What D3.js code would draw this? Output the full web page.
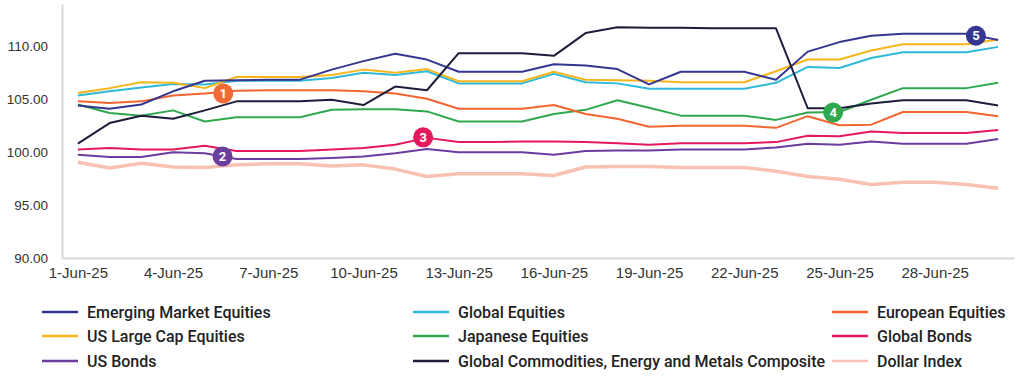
<!DOCTYPE html>
<html>
<head>
<meta charset="utf-8">
<script src="https://cdn.jsdelivr.net/npm/d3@7"></script>
<style>
  html, body { margin: 0; padding: 0; background: #fff; }
  svg { display: block; font-family: Roboto, "Noto Sans", sans-serif; }
</style>
</head>
<body>
<svg id="chart" width="1024" height="382"></svg>
<script>
// ---------- data ----------
const dates = ["1-Jun-25","2-Jun-25","3-Jun-25","4-Jun-25","5-Jun-25","6-Jun-25","7-Jun-25","8-Jun-25","9-Jun-25","10-Jun-25",
  "11-Jun-25","12-Jun-25","13-Jun-25","14-Jun-25","15-Jun-25","16-Jun-25","17-Jun-25","18-Jun-25","19-Jun-25","20-Jun-25",
  "21-Jun-25","22-Jun-25","23-Jun-25","24-Jun-25","25-Jun-25","26-Jun-25","27-Jun-25","28-Jun-25","29-Jun-25","30-Jun-25"];

const yTicks = [90, 95, 100, 105, 110];
const xTickDates = ["1-Jun-25","4-Jun-25","7-Jun-25","10-Jun-25","13-Jun-25","16-Jun-25","19-Jun-25","22-Jun-25","25-Jun-25","28-Jun-25"];

const emergingMarket = [104.4,104.1,104.5,105.75,106.75,106.8,106.85,106.85,107.8,108.6,109.3,108.75,107.6,107.6,107.6,108.3,108.2,107.85,106.4,107.6,107.6,107.6,106.85,109.5,110.4,111.0,111.2,111.2,111.2,110.6];
const globalEquities = [105.35,105.75,106.1,106.45,106.4,106.75,106.75,106.75,107.0,107.5,107.3,107.65,106.5,106.5,106.5,107.4,106.6,106.5,106.0,106.0,106.0,106.0,106.55,108.05,107.95,108.9,109.45,109.45,109.45,109.95];
const europeanEquities = [104.8,104.65,104.8,105.35,105.55,105.8,105.85,105.85,105.85,105.75,105.55,105.05,104.1,104.1,104.1,104.45,103.6,103.15,102.4,102.5,102.5,102.5,102.3,103.4,102.55,102.6,103.8,103.8,103.8,103.4];
const usLargeCap = [105.6,106.05,106.6,106.55,106.05,107.1,107.1,107.1,107.3,107.8,107.5,107.85,106.7,106.7,106.7,107.6,106.85,106.8,106.75,106.6,106.6,106.6,107.65,108.75,108.75,109.6,110.2,110.2,110.2,110.65];
const japaneseEquities = [104.5,103.7,103.45,103.95,102.9,103.3,103.3,103.3,104.0,104.05,104.05,103.85,102.9,102.9,102.9,103.6,104.0,104.9,104.2,103.45,103.45,103.45,103.05,103.75,103.8,104.95,106.05,106.05,106.05,106.55];
const globalBonds = [100.25,100.4,100.25,100.25,100.6,100.1,100.1,100.1,100.25,100.4,100.7,101.35,100.95,100.95,101.0,101.0,100.95,100.85,100.7,100.85,100.85,100.85,100.95,101.55,101.5,101.95,101.8,101.8,101.8,102.1];
const usBonds = [99.75,99.55,99.55,100.0,99.9,99.35,99.35,99.35,99.45,99.6,99.9,100.3,100.0,100.0,100.0,99.75,100.1,100.15,100.15,100.25,100.25,100.25,100.45,100.8,100.7,101.0,100.8,100.8,100.8,101.25];
const globalCommodities = [100.8,102.75,103.45,103.15,103.95,104.8,104.8,104.8,104.95,104.45,106.2,105.85,109.35,109.35,109.35,109.1,111.25,111.8,111.75,111.75,111.7,111.7,111.7,104.15,104.15,104.6,104.9,104.9,104.9,104.4];
const dollarIndex = [99.05,98.5,98.95,98.6,98.55,98.8,98.9,98.9,98.7,98.8,98.4,97.7,97.95,97.95,97.95,97.8,98.6,98.65,98.65,98.55,98.55,98.55,98.2,97.7,97.45,96.95,97.15,97.15,96.95,96.6];

const seriesNames = ["Emerging Market Equities","Global Equities","European Equities",
  "US Large Cap Equities","Japanese Equities","Global Bonds",
  "US Bonds","Global Commodities, Energy and Metals Composite","Dollar Index"];
const seriesValues = [emergingMarket, globalEquities, europeanEquities,
  usLargeCap, japaneseEquities, globalBonds,
  usBonds, globalCommodities, dollarIndex];
const seriesColors = ["#35368f","#2fb8d8","#f26430",
  "#f7b51c","#2fa84f","#e4195c",
  "#6a3d9e","#1d1d3b","#f8c2b3"];
const seriesWidths = [2,2,2, 2,2,2, 2,2,3.5];

// numbered call-outs: label, fractional day index, value, colour
const calloutLabels = ["1","2","3","4","5"];
const calloutIndex = [4.58, 4.56, 10.88, 23.8, 28.3];
const calloutValues = [105.55, 99.6, 101.4, 103.75, 111.0];
const calloutColors = ["#f26a36","#6a3d9e","#e4195c","#2fa84f","#35368f"];

// ---------- layout ----------
const svg = d3.select("#chart");
const mLeft = 62, mRight = 1014, mTop = 4, mBottom = 258;

const x = d3.scaleLinear().domain([-0.5, dates.length - 0.5]).range([mLeft, mRight]);
const y = d3.scaleLinear().domain([90, 114]).range([mBottom, mTop]);

// y axis
const yAxis = svg.append("g").attr("transform", `translate(${mLeft},0)`)
  .call(d3.axisLeft(y).tickValues(yTicks).tickFormat(d3.format(".2f")).tickSize(0).tickPadding(14));
yAxis.select(".domain").attr("stroke", "#d9d9d9").attr("stroke-width", 2);
yAxis.selectAll("text").attr("font-size", 13.5).attr("font-weight", 500).attr("fill", "#333");

// x axis
const xAxis = svg.append("g").attr("transform", `translate(0,${mBottom})`)
  .call(d3.axisBottom(x).tickValues(xTickDates.map(d => dates.indexOf(d)))
    .tickFormat(i => dates[i]).tickSize(0).tickPadding(9));
xAxis.select(".domain").attr("stroke", "#d9d9d9").attr("stroke-width", 2);
xAxis.selectAll("text").attr("font-size", 15).attr("font-weight", 500).attr("fill", "#333");

// lines
const line = d3.line().x((d, i) => x(i)).y(d => y(d));
const drawOrder = [8, 6, 5, 4, 2, 1, 3, 0, 7];
drawOrder.forEach(k => {
  svg.append("path")
    .datum(seriesValues[k])
    .attr("d", line)
    .attr("fill", "none")
    .attr("stroke", seriesColors[k])
    .attr("stroke-width", seriesWidths[k])
    .attr("stroke-linejoin", "round");
});

// callouts
const co = svg.append("g").selectAll("g").data(calloutLabels).join("g")
  .attr("transform", (d, i) => `translate(${x(calloutIndex[i])},${y(calloutValues[i])})`);
co.append("circle").attr("r", 10).attr("fill", (d, i) => calloutColors[i]);
co.append("text").text(d => d).attr("text-anchor", "middle").attr("dy", "0.36em")
  .attr("fill", "#fff").attr("font-size", 13).attr("font-weight", 700);

// legend
const legendCols = [42, 413, 832];
const legendRows = [312, 336, 361];
const lg = svg.append("g").selectAll("g").data(seriesNames).join("g")
  .attr("transform", (d, i) => `translate(${legendCols[i % 3]},${legendRows[Math.floor(i / 3)]})`);
lg.append("line").attr("x1", 0).attr("x2", 36).attr("y1", 0).attr("y2", 0)
  .attr("stroke", (d, i) => seriesColors[i]).attr("stroke-width", 2.5);
lg.append("text").text(d => d).attr("x", 45).attr("dy", "0.35em")
  .attr("font-size", 16).attr("font-weight", 500).attr("fill", "#222");
</script>
</body>
</html>
